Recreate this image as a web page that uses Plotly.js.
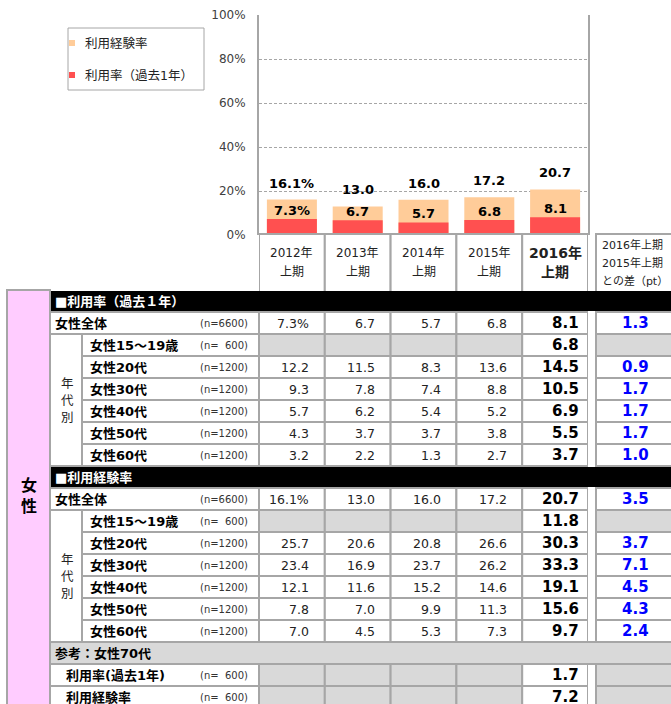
<!DOCTYPE html>
<html><head><meta charset="utf-8">
<script src="https://cdn.plot.ly/plotly-3.0.1.min.js"></script>
<style>html,body{margin:0;padding:0;background:#fff}</style>
</head><body><div id="chart" style="width:671px;height:704px"></div>
<script>
// ---------------- DATA ----------------
const periods = ['2012年上期','2013年上期','2014年上期','2015年上期','2016年上期'];
const headerYears = ['2012年','2013年','2014年','2015年','2016年'];
const headerHalf = '上期';
const usageRate = [7.3, 6.7, 5.7, 6.8, 8.1];
const experienceRate = [16.1, 13.0, 16.0, 17.2, 20.7];
const yTickVals = [0, 20, 40, 60, 80, 100];
const yTickText = ['0%', '20%', '40%', '60%', '80%', '100%'];
const seriesNames = ['利用経験率', '利用率（過去1年）'];
const diffHeader = ['2016年上期', '2015年上期', 'との差（pt）'];

const sectionTitles = ['■利用率（過去１年）', '■利用経験率'];
const totalLabel = '女性全体';
const totalN = '(n=6600)';
const ageGroups = ['女性15～19歳', '女性20代', '女性30代', '女性40代', '女性50代', '女性60代'];
const ageN = ['(n=\u00a0\u00a0600)', '(n=1200)', '(n=1200)', '(n=1200)', '(n=1200)', '(n=1200)'];
const ageSideLabel = ['年', '代', '別'];
const genderLabel = '女<br>性';

const usageTotal = [7.3, 6.7, 5.7, 6.8, 8.1];
const usageTotalDiff = 1.3;
const usageByAge = [
  [null, null, null, null, 6.8],
  [12.2, 11.5, 8.3, 13.6, 14.5],
  [9.3, 7.8, 7.4, 8.8, 10.5],
  [5.7, 6.2, 5.4, 5.2, 6.9],
  [4.3, 3.7, 3.7, 3.8, 5.5],
  [3.2, 2.2, 1.3, 2.7, 3.7]
];
const usageByAgeDiff = [null, 0.9, 1.7, 1.7, 1.7, 1.0];

const expTotal = [16.1, 13.0, 16.0, 17.2, 20.7];
const expTotalDiff = 3.5;
const expByAge = [
  [null, null, null, null, 11.8],
  [25.7, 20.6, 20.8, 26.6, 30.3],
  [23.4, 16.9, 23.7, 26.2, 33.3],
  [12.1, 11.6, 15.2, 14.6, 19.1],
  [7.8, 7.0, 9.9, 11.3, 15.6],
  [7.0, 4.5, 5.3, 7.3, 9.7]
];
const expByAgeDiff = [null, 3.7, 7.1, 4.5, 4.3, 2.4];

const refTitle = '参考：女性70代';
const ref70Labels = ['利用率(過去1年)', '利用経験率'];
const ref70N = ['(n=\u00a0\u00a0600)', '(n=\u00a0\u00a0600)'];
const ref70Values = [1.7, 7.2];

// ---------------- LAYOUT CONSTANTS ----------------
const W = 671, H = 704;
const plotL = 259, plotR = 588, plotT = 15, plotB = 235;
const headTop = 234, rowTop = 290, rowH = 22;
const pinkL = 7, labelL = 50, ageL = 82, ageTextL = 88, refTextL = 64, textL = 53, nRight = 250;
const diffL = 596, diffR = 676, diffTextR = 651;
const GRID = '#A6A6A6', GRAY = '#D9D9D9', PINK = '#FFCCFF';
const ORANGE = '#FFCC99', RED = '#FF5050', BLUE = '#0000FF';
const FN = 'DejaVu Sans, "Noto Sans CJK JP", sans-serif';
const nCat = periods.length;

const shapes = [];
const ann = [];
function rect(xref, x0, x1, y0, y1, fill, lc, lw) {
  shapes.push({type: 'rect', xref: xref, yref: 'y2', x0: x0, x1: x1, y0: y0, y1: y1,
    fillcolor: fill, line: {color: lc || GRID, width: lw == null ? 2 : lw}, layer: 'above'});
}
function text(xref, x, y, t, size, opts) {
  opts = opts || {};
  ann.push({xref: xref, yref: 'y2', x: x, y: y, text: t, showarrow: false,
    xanchor: opts.anchor || 'left', yanchor: 'middle', xshift: opts.xshift || 0,
    font: {family: FN, size: size, color: opts.color || '#000', weight: opts.bold ? 'bold' : 'normal'}});
}
const rY0 = r => rowTop + r * rowH;
const rYc = r => rowTop + r * rowH + rowH / 2;
const fmt = v => v.toFixed(1);

// pink gender column
rect('x2', pinkL, labelL, rowTop, H + 5, PINK);
text('x2', (pinkL + labelL) / 2, 496, genderLabel, 16, {anchor: 'center', bold: true});

// header cells (periods)
for (let i = 0; i < nCat; i++) {
  rect('x', i - 0.5, i + 0.5, headTop, rowTop + 2, '#FFFFFF');
  const last = i === nCat - 1;
  text('x', periods[i], 253, headerYears[i], last ? 14 : 12, {anchor: 'center', bold: last, color: '#222'});
  text('x', periods[i], 272, headerHalf, last ? 14 : 12, {anchor: 'center', bold: last, color: '#222'});
}
rect('x2', diffL, diffR, headTop, rowTop + 2, '#FFFFFF');
diffHeader.forEach((t, k) => text('x2', 600, 245 + k * 18, t, 11, {color: '#222'}));

function dataRow(r, vals, diff, pctFirst) {
  for (let i = 0; i < nCat; i++) {
    const v = vals[i];
    rect('x', i - 0.5, i + 0.5, rY0(r), rY0(r + 1), v == null ? GRAY : '#FFFFFF');
    if (v != null) {
      const last = i === nCat - 1;
      text('x', i + 0.5, rYc(r), fmt(v) + (pctFirst && i === 0 ? '%' : ''), last ? 15 : 12.5,
        {anchor: 'right', bold: last, xshift: last ? -7 : -13.5, color: last ? '#000' : '#222'});
    }
  }
  rect('x2', diffL, diffR, rY0(r), rY0(r + 1), diff == null ? GRAY : '#FFFFFF');
  if (diff != null) text('x2', diffTextR, rYc(r), fmt(diff), 15, {anchor: 'right', bold: true, color: BLUE});
}

function section(base, title, total, totalDiff, byAge, byAgeDiff) {
  rect('x2', labelL, plotL, rY0(base + 1), rY0(base + 2), '#FFFFFF');
  text('x2', textL, rYc(base + 1), totalLabel, 13, {bold: true});
  text('x2', nRight, rYc(base + 1), totalN, 10, {anchor: 'right', color: '#333'});
  dataRow(base + 1, total, totalDiff, true);
  rect('x2', labelL, ageL, rY0(base + 2), rY0(base + 8), '#FFFFFF');
  const mid = (rY0(base + 2) + rY0(base + 8)) / 2;
  ageSideLabel.forEach((c, k) => text('x2', (labelL + ageL) / 2 + 1, mid + (k - 1) * 17, c, 12.5, {anchor: 'center', color: '#222'}));
  for (let a = 0; a < ageGroups.length; a++) {
    const r = base + 2 + a;
    rect('x2', ageL, plotL, rY0(r), rY0(r + 1), '#FFFFFF');
    text('x2', ageTextL, rYc(r), ageGroups[a], 13, {bold: true});
    text('x2', nRight, rYc(r), ageN[a], 10, {anchor: 'right', color: '#333'});
    dataRow(r, byAge[a], byAgeDiff[a], false);
  }
  rect('x2', labelL + 1, W + 5, rY0(base) + 1, rY0(base + 1) - 1, '#000000', '#000000', 0);
  text('x2', textL, rYc(base), title, 13, {bold: true, color: '#FFFFFF'});
}
section(0, sectionTitles[0], usageTotal, usageTotalDiff, usageByAge, usageByAgeDiff);
section(8, sectionTitles[1], expTotal, expTotalDiff, expByAge, expByAgeDiff);

// reference rows (70s)
rect('x2', labelL, W + 5, rY0(16), rY0(17), GRAY);
text('x2', textL, rYc(16), refTitle, 13, {bold: true});
for (let k = 0; k < ref70Labels.length; k++) {
  const r = 17 + k;
  rect('x2', labelL, plotL, rY0(r), rY0(r + 1), '#FFFFFF');
  text('x2', refTextL, rYc(r), ref70Labels[k], 13, {bold: true});
  text('x2', nRight, rYc(r), ref70N[k], 10, {anchor: 'right', color: '#333'});
  dataRow(r, [null, null, null, null, ref70Values[k]], null, false);
}

// legend box
rect('x2', 68, 204, 28, 90, '#FFFFFF', GRID, 1);
[ORANGE, RED].forEach((c, k) => {
  const cy = 43 + k * 32;
  rect('x2', 69, 75, cy - 3, cy + 3, c, c, 0);
  text('x2', 83, cy, seriesNames[k], 12.5, {color: '#222'});
});

// bar value labels
for (let i = 0; i < nCat; i++) {
  ann.push({xref: 'x', yref: 'y', x: periods[i], y: experienceRate[i], yanchor: 'bottom', yshift: 7,
    text: fmt(experienceRate[i]) + (i === 0 ? '%' : ''), showarrow: false,
    font: {family: FN, size: 13, color: '#000', weight: 'bold'}});
  ann.push({xref: 'x', yref: 'y', x: periods[i], y: usageRate[i], yanchor: 'bottom', yshift: -1,
    text: fmt(usageRate[i]) + (i === 0 ? '%' : ''), showarrow: false,
    font: {family: FN, size: 13, color: '#000', weight: 'bold'}});
}

const traces = [
  {type: 'bar', name: seriesNames[0], x: periods, y: experienceRate, marker: {color: ORANGE}, showlegend: false, hoverinfo: 'skip'},
  {type: 'bar', name: seriesNames[1], x: periods, y: usageRate, marker: {color: RED}, showlegend: false, hoverinfo: 'skip'},
  {type: 'scatter', x: [], y: [], xaxis: 'x2', yaxis: 'y2', showlegend: false, hoverinfo: 'skip'}
];

const layout = {
  width: W, height: H, margin: {l: 0, r: 0, t: 0, b: 0},
  paper_bgcolor: '#FFFFFF', plot_bgcolor: 'rgba(0,0,0,0)',
  barmode: 'overlay', bargap: 0.24, showlegend: false,
  font: {family: FN},
  xaxis: {domain: [plotL / W, plotR / W], type: 'category', range: [-0.5, nCat - 0.5],
    showticklabels: false, showgrid: false, zeroline: false, showline: false, ticks: '', fixedrange: true, anchor: 'y'},
  yaxis: {domain: [1 - plotB / H, 1 - plotT / H], range: [0, 100], tickvals: yTickVals, ticktext: yTickText,
    showgrid: true, gridcolor: GRID, gridwidth: 1, griddash: '3px,2px', zeroline: false,
    showline: true, linecolor: GRID, linewidth: 2, mirror: true, ticks: '', ticklabelstandoff: 9,
    tickfont: {family: FN, size: 12, color: '#404040'}, fixedrange: true, anchor: 'x'},
  xaxis2: {domain: [0, 1], range: [0, W], visible: false, fixedrange: true, anchor: 'y2'},
  yaxis2: {domain: [0, 1], range: [H, 0], visible: false, fixedrange: true, anchor: 'x2'},
  shapes: shapes, annotations: ann
};
Plotly.newPlot('chart', traces, layout, {staticPlot: true, displayModeBar: false});
</script></body></html>
